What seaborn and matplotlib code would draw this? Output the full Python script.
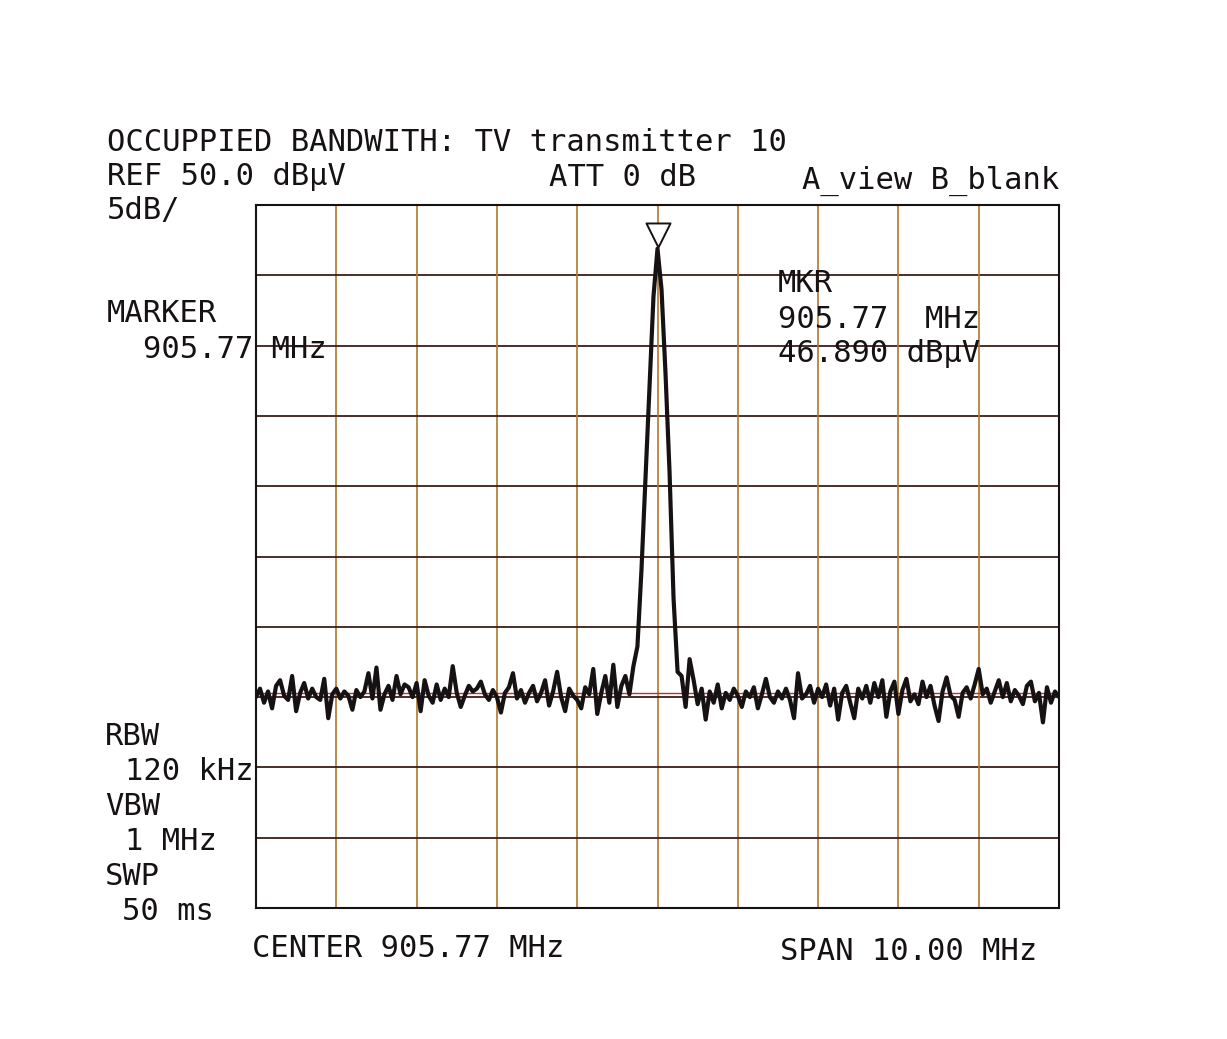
import numpy as np
import pandas as pd
import matplotlib
matplotlib.use("Agg")
import matplotlib.pyplot as plt
import seaborn as sns

# ---- data ----
center_mhz = 905.77
span_mhz = 10.0
ref_level = 50.0
db_per_div = 5.0
marker_level = 46.89
display_line = 15.3

level_dbuv = [
    15.0, 15.6, 14.6, 15.4, 14.2, 15.8, 16.2, 15.1, 14.8, 16.5,
    14.0, 15.3, 16.0, 14.9, 15.6, 15.0, 14.8, 16.3, 13.5, 15.2,
    15.6, 14.9, 15.4, 15.1, 14.1, 15.5, 15.0, 15.4, 16.7, 14.9,
    17.1, 14.1, 15.2, 15.8, 14.8, 16.5, 15.2, 15.9, 15.7, 15.0,
    16.0, 14.0, 16.2, 15.1, 14.6, 15.9, 14.8, 15.6, 15.0, 17.2,
    15.3, 14.3, 15.1, 15.8, 15.4, 15.6, 16.1, 15.2, 14.8, 15.5,
    15.0, 13.9, 15.3, 15.7, 16.7, 14.9, 15.5, 14.6, 15.3, 15.8,
    14.7, 15.3, 16.2, 14.4, 15.4, 16.8, 15.0, 14.0, 15.6, 15.1,
    14.8, 14.2, 15.7, 15.2, 17.0, 13.8, 15.3, 16.5, 14.6, 17.3,
    14.3, 15.8, 16.5, 15.2, 17.2,
    18.6, 24.0, 30.5, 37.0, 43.5, 46.89, 44.0, 38.0, 31.0, 22.0, 16.8, 16.5,
    14.3, 17.7, 16.2, 14.5, 15.6, 13.4, 15.4, 14.6, 15.9, 14.2,
    15.3, 14.8, 15.6, 15.1, 14.3, 15.4, 15.0, 15.7, 14.2, 15.2,
    16.3, 15.0, 14.6, 15.4, 14.9, 15.6, 14.8, 13.5, 16.7, 14.9,
    15.2, 15.8, 14.6, 15.6, 15.0, 15.9, 14.4, 15.6, 13.4, 15.3,
    15.8, 14.6, 13.5, 15.6, 14.9, 15.8, 14.6, 16.0, 15.0, 16.2,
    13.6, 15.4, 16.1, 13.8, 15.5, 16.3, 14.7, 15.2, 14.5, 16.1,
    15.0, 15.8, 14.4, 13.3, 15.4, 16.4, 15.1, 14.8, 13.6, 15.3,
    15.7, 14.9, 15.9, 17.0, 15.2, 15.6, 14.6, 15.4, 16.2, 15.0,
    16.0, 14.7, 15.5, 15.1, 14.5, 15.8, 16.1, 14.7, 15.3, 13.2,
    15.7, 14.6, 15.4, 15.0,
]

f_start = center_mhz - span_mhz / 2
f_stop = center_mhz + span_mhz / 2
freq = np.linspace(f_start, f_stop, len(level_dbuv))
df = pd.DataFrame({"freq": freq, "level": level_dbuv})

# ---- figure ----
sns.set_theme(style="white")
plt.rcParams["font.family"] = ["DejaVu Sans Mono", "DejaVu Sans"]

fig = plt.figure(figsize=(12.27, 10.39), dpi=100)
fig.patch.set_facecolor("white")
ax = fig.add_axes([256 / 1227, 1 - 908 / 1039, 803 / 1227, 703 / 1039])

ax.set_xlim(f_start, f_stop)
ax.set_ylim(ref_level - 10 * db_per_div, ref_level)

# grid
for i in range(1, 10):
    ax.axvline(f_start + i * span_mhz / 10, color="#b0782c", lw=1.2, zorder=1)
    ax.axhline(ref_level - i * db_per_div, color="#3c1c1c", lw=1.3, zorder=1)

# display line
ax.axhline(display_line, color="#c03030", lw=1.0, zorder=2)

sns.lineplot(data=df, x="freq", y="level", ax=ax, color="#161214",
             linewidth=3.0, zorder=3, legend=False)

mk = pd.DataFrame({"freq": [center_mhz], "level": [marker_level + 0.95]})
sns.scatterplot(data=mk, x="freq", y="level", ax=ax, marker="v", s=300,
                facecolor="white", edgecolor="#161214", linewidth=1.4,
                zorder=4, legend=False)

ax.set_xticks([])
ax.set_yticks([])
ax.set_xlabel("")
ax.set_ylabel("")
for s in ax.spines.values():
    s.set_color("#161214")
    s.set_linewidth(1.5)

fs = 22
W, H = 1227, 1039


def t(x, y, s, **kw):
    fig.text(x / W, 1 - y / H, s, fontsize=fs, color="#161214",
             va="baseline", ha=kw.pop("ha", "left"), **kw)


t(107, 151, "OCCUPPIED BANDWITH: TV transmitter 10")
t(107, 185, "REF 50.0 dBµV")
t(549, 186, "ATT 0 dB")
t(1059, 189, "A_view B_blank", ha="right")
t(107, 219, "5dB/")
t(107, 322, "MARKER")
t(143, 358, "905.77 MHz")
t(778, 292, "MKR")
t(778, 328, "905.77  MHz")
t(778, 362, "46.890 dBµV")
t(105, 745, "RBW")
t(125, 780, "120 kHz")
t(105, 815, "VBW")
t(125, 850, "1 MHz")
t(105, 885, "SWP")
t(122, 920, "50 ms")
t(252, 957, "CENTER 905.77 MHz")
t(1037, 960, "SPAN 10.00 MHz", ha="right")

fig.savefig("out.png", dpi=100, facecolor="white")
